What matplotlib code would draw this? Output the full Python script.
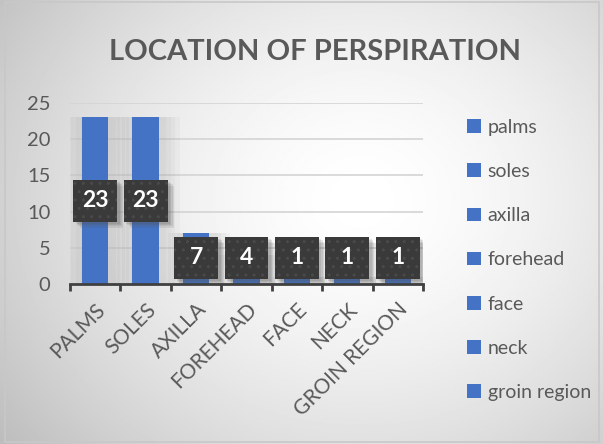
import numpy as np
import matplotlib
matplotlib.use("Agg")
import matplotlib.pyplot as plt
from matplotlib.patches import Rectangle, Patch

plt.rcParams['font.family'] = ['Lato', 'DejaVu Sans']

# chart data
categories = ['PALMS', 'SOLES', 'AXILLA', 'FOREHEAD', 'FACE', 'NECK', 'GROIN REGION']
legend_labels = ['palms', 'soles', 'axilla', 'forehead', 'face', 'neck', 'groin region']
counts = [23, 23, 7, 4, 1, 1, 1]

blue = '#4472C4'
text_grey = '#595959'

fig = plt.figure(figsize=(6.03, 4.44), dpi=100)

# soft grey background, lighter towards the middle
bg = fig.add_axes([0, 0, 1, 1], zorder=-10)
yy, xx = np.mgrid[0:1:300j, 0:1:400j]
r = np.sqrt(((xx - 0.6) / 0.72) ** 2 + ((yy - 0.55) / 0.85) ** 2)
shade = np.clip(1.0 - 0.24 * r ** 1.6, 0, 1)
bg.imshow(shade, cmap='gray', vmin=0, vmax=1, extent=[0, 1, 0, 1],
          aspect='auto', origin='lower')
bg.add_patch(Rectangle((0.008, 0.004), 0.985, 0.992, fill=False,
                       edgecolor='#c8c8c8', lw=1.2, transform=bg.transAxes))
bg.set_axis_off()

ax = fig.add_axes([0.116, 0.3604, 0.5855, 0.4077])
ax.set_facecolor('none')
x = np.arange(len(categories))

# blurred shadow behind the bars
for k in range(4):
    ax.bar(x + 0.06, counts, width=0.52 + 0.18 * (k + 1), color='#808080',
           alpha=0.05, zorder=1, linewidth=0)
ax.bar(x, counts, width=0.52, color=blue, zorder=2)

# value labels in dark boxes, kept above the axis for short bars
box_w, box_h = 0.87, 5.8
for xi, v in zip(x, counts):
    yc = max(v / 2, 3.6)
    for k in range(4):
        ax.add_patch(Rectangle((xi - box_w / 2 + 0.05 + 0.025 * k, yc - box_h / 2 - 0.3 - 0.18 * k),
                               box_w, box_h, facecolor='#555555', alpha=0.13,
                               linewidth=0, zorder=3))
    ax.add_patch(Rectangle((xi - box_w / 2, yc - box_h / 2), box_w, box_h,
                           facecolor='#3a3a3a', edgecolor='#4a4a4a', hatch='..',
                           linewidth=0, zorder=4))
    ax.text(xi, yc, str(v), ha='center', va='center', color='white',
            fontsize=16.5, fontweight='bold', zorder=5)

ax.set_xlim(-0.5, len(categories) - 0.5)
ax.set_ylim(0, 25)
ax.set_yticks(range(0, 26, 5))
ax.yaxis.grid(True, color='#d4d4d4', linewidth=1.2)
ax.set_axisbelow(True)
for s in ['top', 'right', 'left']:
    ax.spines[s].set_visible(False)
ax.spines['bottom'].set_color('#404040')
ax.spines['bottom'].set_linewidth(2)
ax.spines['bottom'].set_zorder(6)

ax.set_xticks(x)
ax.set_xticklabels(categories, rotation=45, ha='right', va='top',
                   rotation_mode='anchor')
ax.set_xticks(np.arange(-0.5, len(categories), 1), minor=True)
ax.tick_params(axis='x', which='major', length=0, pad=11, labelsize=15,
               labelcolor=text_grey)
ax.tick_params(axis='x', which='minor', length=5, width=2, color='#404040')
ax.tick_params(axis='y', length=0, pad=14, labelsize=14.5, labelcolor=text_grey)

fig.text(0.523, 0.882, 'LOCATION OF PERSPIRATION', ha='center', va='center',
         fontsize=21, fontweight='bold', color=text_grey)

handles = [Patch(facecolor=blue, edgecolor='none') for _ in legend_labels]
leg = fig.legend(handles, legend_labels, loc='upper left',
                 bbox_to_anchor=(0.762, 0.75), frameon=False, fontsize=14,
                 labelspacing=1.4, handlelength=0.7, handleheight=0.7,
                 handletextpad=0.35, borderaxespad=0)
for t in leg.get_texts():
    t.set_color(text_grey)

fig.savefig('out.png', dpi=100)
